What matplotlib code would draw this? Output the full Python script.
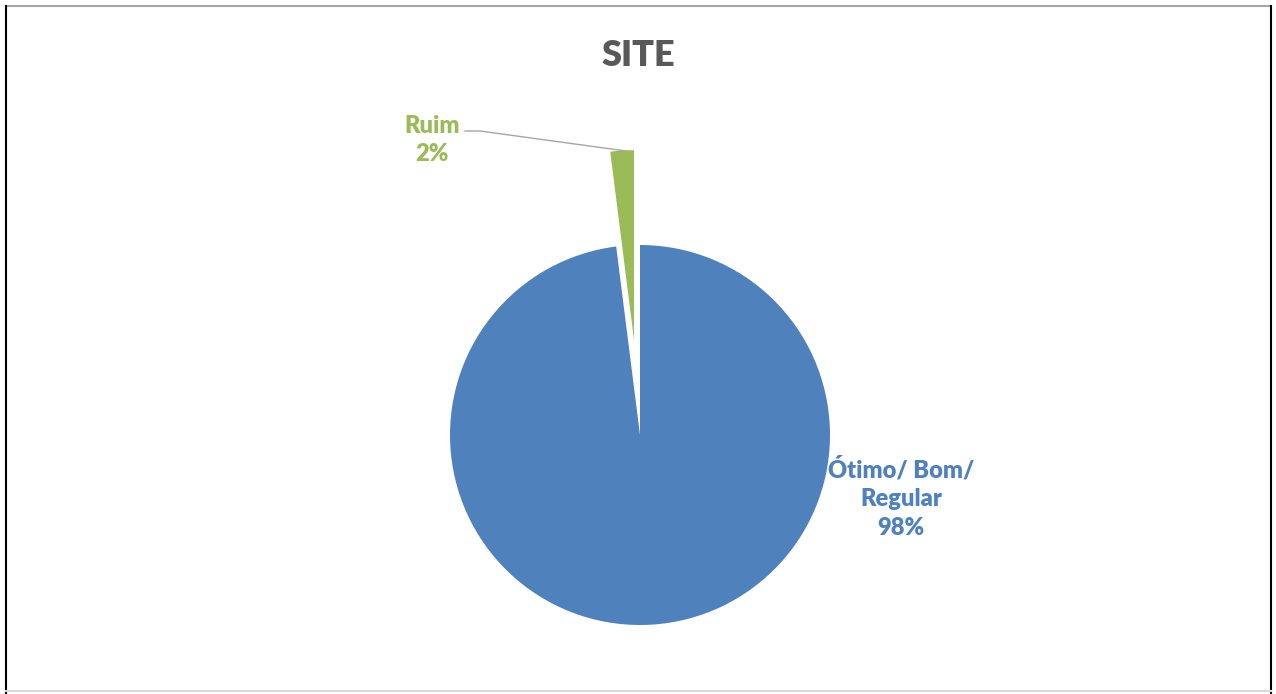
import matplotlib.pyplot as plt
from matplotlib.lines import Line2D

labels = ["Ótimo/ Bom/\nRegular", "Ruim"]
shares = [98, 2]
colors = ["#4F81BD", "#9BBB59"]

W, H = 1276, 694
fig = plt.figure(figsize=(W / 100, H / 100), dpi=100)
ax = fig.add_axes([0, 0, 1, 1])

# pie in pixel coords (y upward)
cx, cy, r = 640, H - 435, 190
explode = [0, 0.5 * r]
wedges, _ = ax.pie(shares, colors=colors, explode=explode, startangle=90,
                   counterclock=False, center=(cx, cy), radius=r,
                   wedgeprops=dict(linewidth=0))
ax.set_xlim(0, W)
ax.set_ylim(0, H)
ax.set_aspect("equal")
ax.axis("off")

font = "Lato"
fig.text(638 / W, 1 - 55 / H, "SITE", ha="center", va="center",
         fontsize=26, fontweight="heavy", color="#595959", family=font)

# labels with percent
ax.text(432, H - 140, f"{labels[1]}\n{shares[1]}%", ha="center", va="center",
        fontsize=17, fontweight="heavy", color=colors[1], family=font,
        linespacing=1.35)
ax.plot([465, 480, 626], [H - 131, H - 131, H - 151], color="#A6A6A6", lw=1)

ax.text(901, H - 498, f"{labels[0]}\n{shares[0]}%", ha="center", va="center",
        fontsize=17, fontweight="heavy", color=colors[0], family=font,
        linespacing=1.4)

# chart frame
fig.add_artist(Line2D([6 / W, 1271 / W], [1 - 6 / H, 1 - 6 / H], color="#A6A6A6", lw=1.5))
fig.add_artist(Line2D([6 / W, 6 / W], [0, 1 - 6 / H], color="black", lw=1.5))
fig.add_artist(Line2D([1271 / W, 1271 / W], [0, 1 - 6 / H], color="black", lw=1.5))
fig.add_artist(Line2D([6 / W, 1271 / W], [1 - 691 / H, 1 - 691 / H], color="#D9D9D9", lw=1.5))

fig.savefig("out.png", dpi=100)
